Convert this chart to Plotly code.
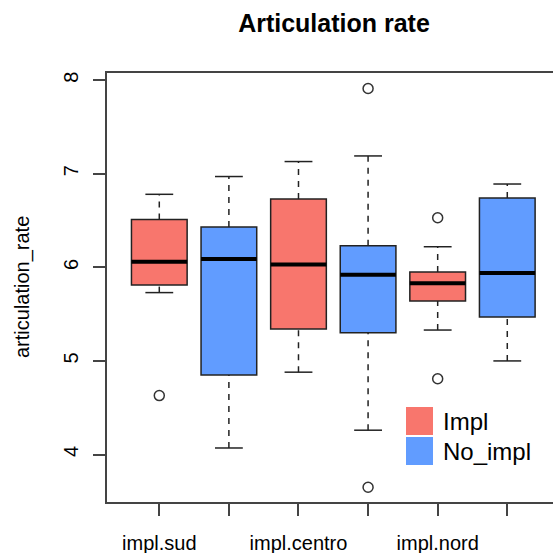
import plotly.graph_objects as go

# ---- data ----
groups = ["impl.sud", "impl.centro", "impl.nord"]
positions = [1, 2, 3, 4, 5, 6]
tick_labels = ["impl.sud", "", "impl.centro", "", "impl.nord", ""]
series = ["Impl", "No_impl", "Impl", "No_impl", "Impl", "No_impl"]

lower_whisker = [5.73, 4.07, 4.88, 4.26, 5.33, 5.00]
q1 = [5.81, 4.85, 5.34, 5.30, 5.64, 5.47]
median = [6.06, 6.09, 6.03, 5.92, 5.83, 5.94]
q3 = [6.51, 6.43, 6.73, 6.23, 5.95, 6.74]
upper_whisker = [6.78, 6.97, 7.13, 7.19, 6.22, 6.89]
outlier_pos = [1, 4, 4, 5, 5]
outlier_val = [4.63, 7.91, 3.65, 6.53, 4.81]

colors = {"Impl": "#F8766D", "No_impl": "#619CFF"}
BOXW = 0.8
CAPW = 0.4
INK = "#222222"
FONT = "Liberation Sans, Arial, Helvetica, sans-serif"

fig = go.Figure()

# boxes
for s in ["Impl", "No_impl"]:
    idx = [i for i, v in enumerate(series) if v == s]
    fig.add_trace(go.Bar(
        x=[positions[i] for i in idx],
        y=[q3[i] - q1[i] for i in idx],
        base=[q1[i] for i in idx],
        width=BOXW,
        marker=dict(color=colors[s], line=dict(color=INK, width=1.5)),
        name=s, showlegend=False, hoverinfo="skip",
    ))

# whiskers (dashed)
wx, wy = [], []
for p, lo, a, b, hi in zip(positions, lower_whisker, q1, q3, upper_whisker):
    wx += [p, p, None, p, p, None]
    wy += [lo, a, None, b, hi, None]
fig.add_trace(go.Scatter(x=wx, y=wy, mode="lines",
                         line=dict(color=INK, width=1.5, dash="6px,6px"),
                         showlegend=False, hoverinfo="skip"))

# caps
cx, cy = [], []
for p, lo, hi in zip(positions, lower_whisker, upper_whisker):
    cx += [p - CAPW / 2, p + CAPW / 2, None, p - CAPW / 2, p + CAPW / 2, None]
    cy += [lo, lo, None, hi, hi, None]
fig.add_trace(go.Scatter(x=cx, y=cy, mode="lines",
                         line=dict(color=INK, width=1.5),
                         showlegend=False, hoverinfo="skip"))

# medians
mx, my = [], []
for p, m in zip(positions, median):
    mx += [p - BOXW / 2, p + BOXW / 2, None]
    my += [m, m, None]
fig.add_trace(go.Scatter(x=mx, y=my, mode="lines",
                         line=dict(color="black", width=4),
                         showlegend=False, hoverinfo="skip"))

# outliers
fig.add_trace(go.Scatter(x=outlier_pos, y=outlier_val, mode="markers",
                         marker=dict(symbol="circle-open", size=10,
                                     color="#333333", line=dict(width=1.5)),
                         showlegend=False, hoverinfo="skip"))

# legend drawn as layout decoration (R-style large keys)
W, H = 553, 553
L, R, T, B = 107, 0, 73, 51
PW, PH = W - L - R, H - T - B

def fx(x):  # pixel -> plot-area paper x
    return (x - L) / PW

def fy(y):  # pixel -> plot-area paper y
    return (H - B - y) / PH

leg_items = [("Impl", 407, 435), ("No_impl", 437, 465)]
for name, top, bot in leg_items:
    fig.add_shape(type="rect", xref="paper", yref="paper",
                  x0=fx(406), x1=fx(433), y0=fy(bot), y1=fy(top),
                  fillcolor=colors[name], line=dict(width=0), layer="above")
    fig.add_annotation(text=name, xref="paper", yref="paper",
                       x=fx(441), y=fy((top + bot) / 2),
                       xanchor="left", yanchor="middle", showarrow=False,
                       font=dict(family=FONT, size=24, color="black"))

# y-axis title
fig.add_annotation(text="articulation_rate", xref="paper", yref="paper",
                   x=fx(22), y=fy(287), xanchor="center", yanchor="middle",
                   textangle=-90, showarrow=False,
                   font=dict(family=FONT, size=20, color="black"))

fig.update_layout(
    width=W, height=H,
    margin=dict(l=L, r=R, t=T, b=B, autoexpand=False),
    paper_bgcolor="white", plot_bgcolor="white",
    barmode="overlay",
    showlegend=False,
    title=dict(text="<b>Articulation rate</b>", xref="paper", x=fx(334),
               xanchor="center", yref="container", y=1 - 23 / H, yanchor="middle",
               font=dict(family=FONT, size=25, color="black")),
    font=dict(family=FONT, color="black"),
    xaxis=dict(range=[0.2486, 6.657], tickmode="array", tickvals=positions,
               ticktext=tick_labels, ticks="outside", ticklen=12, tickwidth=1.5,
               tickcolor="#444", showline=True, linecolor="#444", linewidth=1.5,
               mirror=True, showgrid=False, zeroline=False, automargin=False,
               tickfont=dict(family=FONT, size=20, color="black"),
               ticklabelstandoff=10),
    yaxis=dict(range=[3.493, 8.076], tickmode="array", tickvals=[4, 5, 6, 7, 8],
               ticks="outside", ticklen=12, tickwidth=1.5, tickcolor="#444",
               showline=True, linecolor="#444", linewidth=1.5, mirror=False,
               showgrid=False, zeroline=False, tickangle=-90, automargin=False,
               tickfont=dict(family=FONT, size=20, color="black"),
               ticklabelstandoff=7),
)

fig.write_html("out.html", config={"displayModeBar": False},
               post_script="document.body.style.margin='0';document.body.style.overflow='hidden';")
